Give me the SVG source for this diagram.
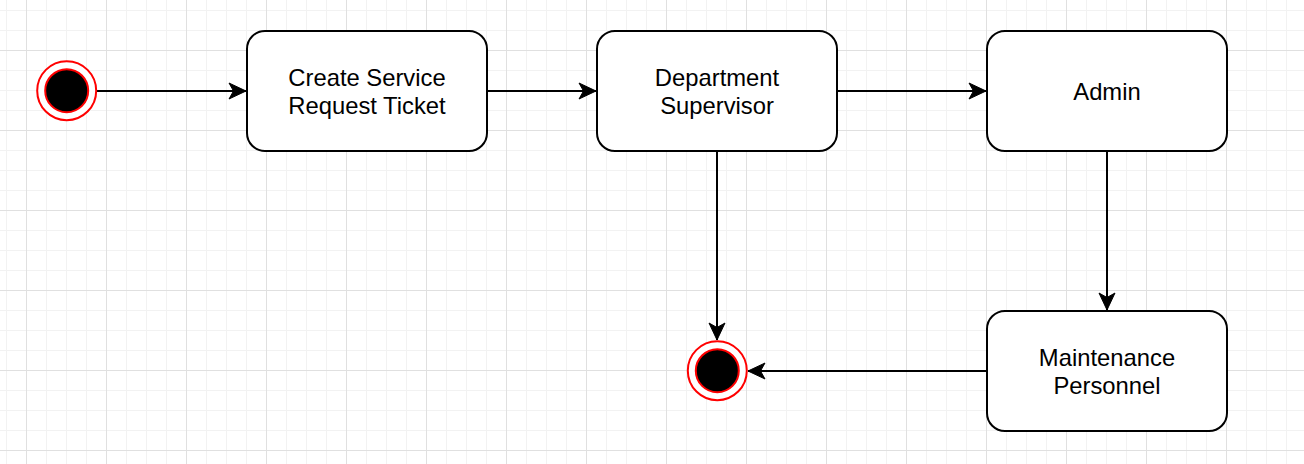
<svg xmlns="http://www.w3.org/2000/svg" width="1304" height="464" viewBox="0 0 1304 464">
  <style>
    .node rect { fill: #ffffff; stroke: #000000; stroke-width: 2; }
    .node text { font-family: "Liberation Sans", Arial, Helvetica, sans-serif; font-size: 23.8px; fill: #000000; text-anchor: middle; }
    .outer { fill: #ffffff; stroke: #ff0000; stroke-width: 2; }
    .inner { fill: #000000; stroke: #ff0000; stroke-width: 2; }
    .edge { fill: none; stroke: #000000; stroke-width: 2; marker-end: url(#arrow); }
  </style>
  <defs>
    <pattern id="grid" patternUnits="userSpaceOnUse" x="26" y="50" width="80" height="80">
      <path d="M20.5 0V80M40.5 0V80M60.5 0V80M0 20.5H80M0 40.5H80M0 60.5H80" stroke="#f2f2f2" stroke-width="1" fill="none"/>
      <path d="M0.5 0V80M0 0.5H80" stroke="#e0e0e0" stroke-width="1" fill="none"/>
    </pattern>
    <marker id="arrow" markerUnits="userSpaceOnUse" markerWidth="20" markerHeight="20" viewBox="-18 -10 20 20" refX="0" refY="0" orient="auto">
      <path d="M0 0L-17 -8L-12.5 0L-17 8Z" fill="#000000" stroke="#000000" stroke-width="1"/>
    </marker>
  </defs>
  <rect width="1304" height="464" fill="#ffffff"/>
  <rect width="1304" height="464" fill="url(#grid)"/>

  <g id="connectors">
    <path class="edge" d="M97 91H246"/>
    <path class="edge" d="M487 91H596"/>
    <path class="edge" d="M837 91H986"/>
    <path class="edge" d="M717 151V340"/>
    <path class="edge" d="M1107 151V310"/>
    <path class="edge" d="M987 371H748"/>
  </g>

  <g id="start">
    <circle class="outer" cx="66.7" cy="90.7" r="29.5"/>
    <circle class="inner" cx="66.7" cy="90.7" r="21.5"/>
  </g>
  <g id="create-ticket" class="node">
    <rect x="247" y="31" width="240" height="120" rx="18" ry="18"/>
    <text x="367" y="86">Create Service</text>
    <text x="367" y="114">Request Ticket</text>
  </g>
  <g id="dept-supervisor" class="node">
    <rect x="597" y="31" width="240" height="120" rx="18" ry="18"/>
    <text x="717" y="86">Department</text>
    <text x="717" y="114">Supervisor</text>
  </g>
  <g id="admin" class="node">
    <rect x="987" y="31" width="240" height="120" rx="18" ry="18"/>
    <text x="1107" y="100">Admin</text>
  </g>
  <g id="maintenance" class="node">
    <rect x="987" y="311" width="240" height="120" rx="18" ry="18"/>
    <text x="1107" y="366">Maintenance</text>
    <text x="1107" y="394">Personnel</text>
  </g>
  <g id="end">
    <circle class="outer" cx="717.3" cy="370.7" r="29.5"/>
    <circle class="inner" cx="717.3" cy="370.7" r="21.5"/>
  </g>
</svg>
